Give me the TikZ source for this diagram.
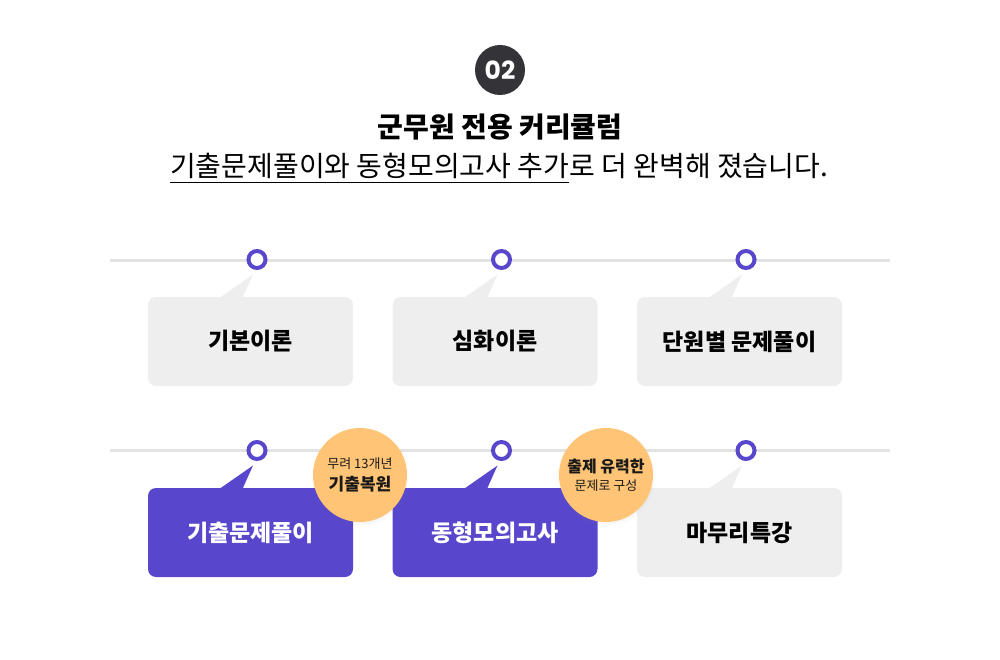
\documentclass[tikz,border=0pt]{standalone}
\usepackage{fontspec}
\setmainfont{Noto Sans CJK KR}
\newfontfamily\numfont{Poppins}
\usetikzlibrary{positioning,shadows}
\definecolor{cardgray}{HTML}{EEEEEE}
\definecolor{cardpurple}{HTML}{5847CC}
\definecolor{tagorange}{HTML}{FFC475}
\definecolor{railgray}{HTML}{E3E3E3}
\definecolor{badgedark}{HTML}{333338}

\begin{document}
\begin{tikzpicture}[x=1pt,y=-1pt,node distance=191pt and 244.5pt,on grid,
    card/.style={rectangle,rounded corners=8pt,minimum width=205pt,minimum height=89pt,fill=cardgray,text=black,font=\fontsize{23}{27}\selectfont\bfseries},
    hot/.style={card,fill=cardpurple,text=white},
    dot/.style={circle,draw=cardpurple,line width=4pt,fill=white,minimum size=17pt,inner sep=0pt},
    tag/.style={circle,fill=tagorange,minimum size=94pt,inner sep=0pt,align=center,text=black!90,
      circular drop shadow={opacity=.12,shadow xshift=0pt,shadow yshift=-2pt,shadow scale=1.05}},
    rail/.style={draw=railgray,line width=3pt}]
  \useasboundingbox (0,0) rectangle (1000,660);

  % heading
  \node[circle,fill=badgedark,minimum size=50pt,text=white,font=\numfont\bfseries\fontsize{25}{25}\selectfont] (num) at (500,70) {02};
  \node[font=\bfseries\fontsize{28}{32}\selectfont] (title) at (500,127) {군무원 전용 커리큘럼};
  \node[inner sep=0pt,anchor=base west,font=\fontsize{28}{32}\selectfont] (sub1) at (170,177) {기출문제풀이와 동형모의고사 추가};
  \node[inner sep=0pt,anchor=base west,font=\fontsize{28}{32}\selectfont] (sub2) at (sub1.base east) {로 더 완벽해 졌습니다.};
  \draw[line width=1pt] ([yshift=-6pt]sub1.base west) -- ([yshift=-6pt]sub1.base east);

  % cards
  \node[card] (c1) at (250.5,341.5) {기본이론};
  \node[card] (c2) [right=of c1] {심화이론};
  \node[card] (c3) [right=of c2] {단원별 문제풀이};
  \node[hot]  (c4) [below=of c1] {기출문제풀이};
  \node[hot]  (c5) [right=of c4] {동형모의고사};
  \node[card] (c6) [right=of c5] {마무리특강};

  % rails
  \coordinate (r1) at (110,260);
  \coordinate (r2) at (890,260);
  \coordinate (r3) at (110,450);
  \coordinate (r4) at (890,450);
  \draw[rail] (r1) -- (r2);
  \draw[rail] (r3) -- (r4);

  % dots
  \node[dot] (d1) [above=82pt of c1,xshift=6.5pt] {};
  \node[dot] (d2) [above=82pt of c2,xshift=6.5pt] {};
  \node[dot] (d3) [above=82pt of c3,xshift=6.5pt] {};
  \node[dot] (d4) [above=82pt of c4,xshift=6.5pt] {};
  \node[dot] (d5) [above=82pt of c5,xshift=6.5pt] {};
  \node[dot] (d6) [above=82pt of c6,xshift=6.5pt] {};

  % pointers
  \fill[cardgray] ([xshift=-29.5pt]c1.north) -- ([xshift=-4pt,yshift=-15pt]d1.center) -- ([xshift=-7.5pt]c1.north) -- cycle;
  \fill[cardgray] ([xshift=-29.5pt]c2.north) -- ([xshift=-4pt,yshift=-15pt]d2.center) -- ([xshift=-7.5pt]c2.north) -- cycle;
  \fill[cardgray] ([xshift=-29.5pt]c3.north) -- ([xshift=-4pt,yshift=-15pt]d3.center) -- ([xshift=-7.5pt]c3.north) -- cycle;
  \fill[cardpurple] ([xshift=-29.5pt]c4.north) -- ([xshift=-4pt,yshift=-15pt]d4.center) -- ([xshift=-7.5pt]c4.north) -- cycle;
  \fill[cardpurple] ([xshift=-29.5pt]c5.north) -- ([xshift=-4pt,yshift=-15pt]d5.center) -- ([xshift=-7.5pt]c5.north) -- cycle;
  \fill[cardgray] ([xshift=-29.5pt]c6.north) -- ([xshift=-4pt,yshift=-15pt]d6.center) -- ([xshift=-7.5pt]c6.north) -- cycle;

  % tags
  \node[tag] (t1) at (360,475) {{\fontsize{13}{16}\selectfont 무려 13개년}\\[5pt]{\fontsize{17}{20}\selectfont\bfseries 기출복원}};
  \node[tag] (t2) at (606,475) {{\fontsize{16}{20}\selectfont\bfseries 출제 유력한}\\[5pt]{\fontsize{13}{16}\selectfont 문제로 구성}};
\end{tikzpicture}
\end{document}
